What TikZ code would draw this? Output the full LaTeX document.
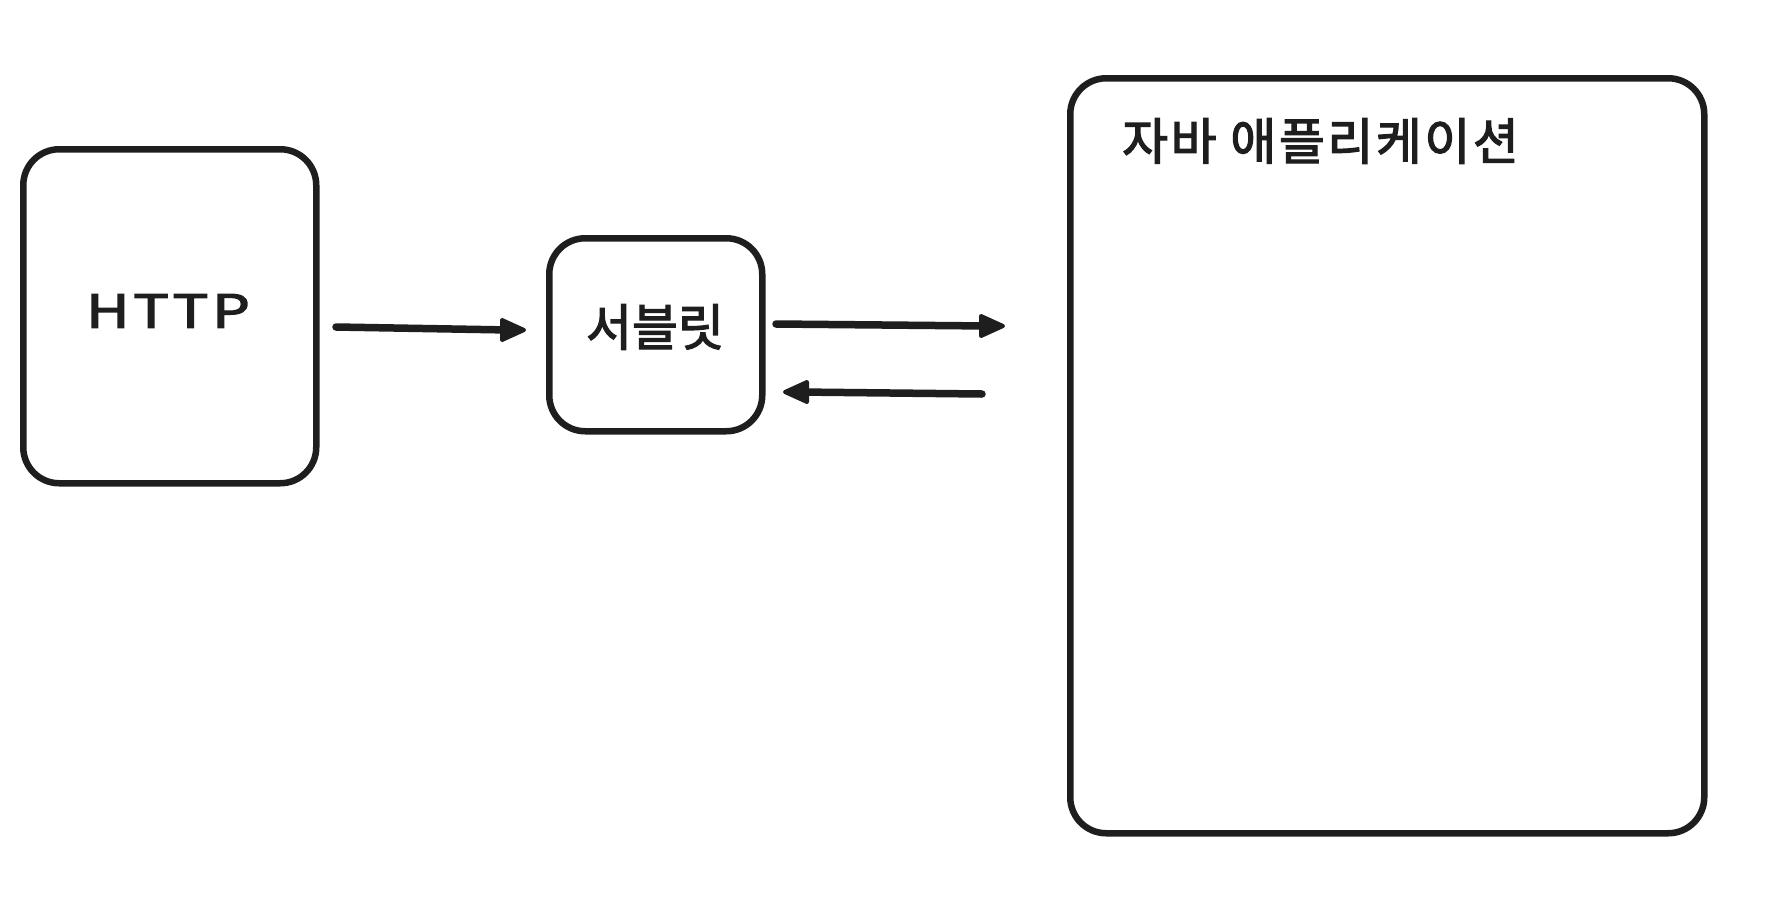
\documentclass[tikz,border=0pt]{standalone}
\usepackage{fontspec}
\newfontfamily\krfont[FakeBold=2.5]{Noto Sans CJK KR}
\newfontfamily\krwide[FakeBold=2.5,LetterSpace=5]{Noto Sans CJK KR}
\newfontfamily\httpfont[FakeBold=2.5,LetterSpace=6]{Noto Sans CJK KR}
\usetikzlibrary{arrows.meta,calc}
\definecolor{ink}{HTML}{1E1E1E}
\begin{document}
\begin{tikzpicture}[x=1pt,y=-1pt,
  box/.style={draw=ink, line width=6.5pt, rounded corners=36pt, fill=white},
  arr/.style={draw=ink, line width=7.5pt, line cap=round},
  headR/.style={fill=ink, draw=ink, line width=4pt, line join=round},
  lbl/.style={text=ink, inner sep=0pt}]
\fill[white] (0,0) rectangle (1788,908);
\useasboundingbox (0,0) rectangle (1788,908);
% boxes
\node[box, minimum width=293pt, minimum height=334pt, anchor=north west] (http) at (20,146) {};
\node[lbl, font=\httpfont\fontsize{46}{50}\selectfont, xscale=1.3] (httpt) at (168,311) {HTTP};
\node[box, minimum width=213pt, minimum height=193pt, anchor=north west] (servlet) at (546,235) {};
\node[lbl, font=\krfont\fontsize{50}{54}\selectfont] (servt) at (655,327) {서블릿};
\node[box, minimum width=634pt, minimum height=755pt, anchor=north west] (app) at (1067,75) {};
\node[lbl, font=\krwide\fontsize{50}{54}\selectfont, anchor=west] (appt) at (1122,141) {자바 애플리케이션};
% arrow end points
\coordinate (a1s) at (336,327);
\coordinate (a1e) at (524,330);
\coordinate (a2s) at (776,324);
\coordinate (a2e) at (1003,326);
\coordinate (a3s) at (982,394);
\coordinate (a3e) at (785,392);
% arrows
\draw[arr] (a1s) -- ($(a1e)+(-14,0)$);
\filldraw[headR] (a1e) -- ++(-22,-10) -- ++(0,20) -- cycle;
\draw[arr] (a2s) -- ($(a2e)+(-14,0)$);
\filldraw[headR] (a2e) -- ++(-22,-10) -- ++(0,20) -- cycle;
\draw[arr] (a3s) -- ($(a3e)+(14,0)$);
\filldraw[headR] (a3e) -- ++(22,-10) -- ++(0,20) -- cycle;
\end{tikzpicture}
\end{document}
